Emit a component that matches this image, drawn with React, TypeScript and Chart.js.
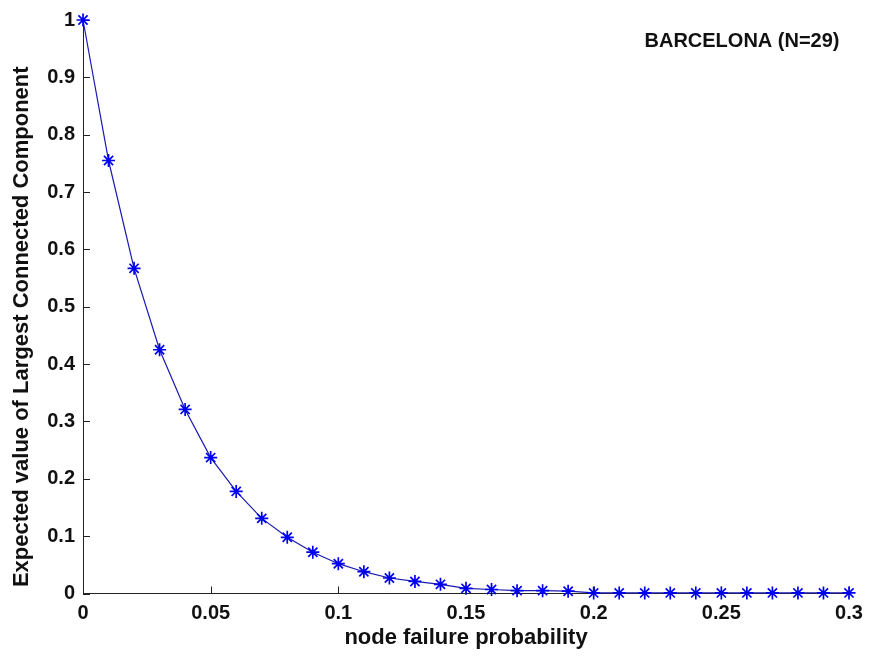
import React, { useEffect, useRef } from "react";
import { Chart, registerables } from "chart.js";

Chart.register(...registerables);

const failureProb = [
  0.0, 0.01, 0.02, 0.03, 0.04, 0.05, 0.06, 0.07, 0.08, 0.09, 0.1,
  0.11, 0.12, 0.13, 0.14, 0.15, 0.16, 0.17, 0.18, 0.19, 0.2,
  0.21, 0.22, 0.23, 0.24, 0.25, 0.26, 0.27, 0.28, 0.29, 0.3,
];
const expectedLCC = [
  1.0, 0.755, 0.567, 0.425, 0.321, 0.237, 0.178, 0.131, 0.098, 0.072, 0.052,
  0.038, 0.027, 0.021, 0.016, 0.009, 0.007, 0.005, 0.005, 0.004, 0.001,
  0.001, 0.001, 0.001, 0.001, 0.001, 0.001, 0.001, 0.001, 0.001, 0.001,
];
const xTickValues = [0, 0.05, 0.1, 0.15, 0.2, 0.25, 0.3];
const yTickValues = [0, 0.1, 0.2, 0.3, 0.4, 0.5, 0.6, 0.7, 0.8, 0.9, 1];

const annotationText = "BARCELONA (N=29)";
const xTitle = "node failure probability";
const yTitle = "Expected value of Largest Connected Component";

const FONT = "'Liberation Sans', Arial, Helvetica, sans-serif";
const fmt = (v: number) => String(parseFloat(Number(v).toFixed(3)));

const innerTicksPlugin = {
  id: "innerTicks",
  beforeDatasetsDraw(chart: any) {
    const { ctx, chartArea } = chart;
    const xs = chart.scales.x;
    const ys = chart.scales.y;
    const len = 7;
    ctx.save();
    ctx.strokeStyle = "#222";
    ctx.lineWidth = 1;
    ctx.beginPath();
    xTickValues.forEach((v) => {
      const px = Math.round(xs.getPixelForValue(v)) + 0.5;
      ctx.moveTo(px, chartArea.bottom);
      ctx.lineTo(px, chartArea.bottom - len);
    });
    yTickValues.forEach((v) => {
      const py = Math.round(ys.getPixelForValue(v)) + 0.5;
      ctx.moveTo(chartArea.left, py);
      ctx.lineTo(chartArea.left + len, py);
    });
    ctx.stroke();
    ctx.restore();
  },
};

const textPlugin = {
  id: "textLabels",
  afterDraw(chart: any) {
    const { ctx, chartArea } = chart;
    ctx.save();
    ctx.fillStyle = "#111";
    ctx.font = `bold 20px ${FONT}`;
    ctx.textAlign = "center";
    ctx.textBaseline = "middle";
    ctx.fillText(annotationText, chartArea.right - 107, chartArea.top + 21);
    ctx.font = `bold 22px ${FONT}`;
    ctx.translate(22, (chartArea.top + chartArea.bottom) / 2 + 20);
    ctx.rotate(-Math.PI / 2);
    ctx.fillText(yTitle, 0, 0);
    ctx.restore();
  },
};

export default function App() {
  const ref = useRef<HTMLCanvasElement | null>(null);

  useEffect(() => {
    if (!ref.current) return;
    const chart = new Chart(ref.current, {
      type: "line",
      data: {
        datasets: [
          {
            data: failureProb.map((x, i) => ({ x, y: expectedLCC[i] })),
            borderColor: "#1a1ab0",
            borderWidth: 1.2,
            pointStyle: "star",
            pointRadius: 6.5,
            pointBorderColor: "#0000f0",
            pointBackgroundColor: "#0000f0",
            pointBorderWidth: 1.7,
            tension: 0,
            fill: false,
            clip: false as any,
          },
        ],
      },
      options: {
        responsive: false,
        animation: false,
        layout: { padding: { left: 0, right: 23, top: 17, bottom: 0 } },
        plugins: {
          legend: { display: false },
          tooltip: { enabled: false },
          title: { display: false },
        },
        scales: {
          x: {
            type: "linear",
            min: 0,
            max: 0.3,
            afterBuildTicks: (s: any) => {
              s.ticks = xTickValues.map((v) => ({ value: v }));
            },
            afterFit: (s: any) => {
              s.height = 66.5;
            },
            grid: { display: true, drawOnChartArea: false, drawTicks: false },
            border: { display: true, color: "#222", width: 1 },
            ticks: {
              padding: 8,
              color: "#111",
              font: { family: FONT, size: 20, weight: "bold" },
              callback: (v: any) => fmt(v),
              maxRotation: 0,
              autoSkip: false,
            },
            title: {
              display: true,
              text: xTitle,
              color: "#111",
              font: { family: FONT, size: 22, weight: "bold" },
              padding: { top: 0, bottom: 9 },
            },
          },
          y: {
            type: "linear",
            min: 0,
            max: 1,
            afterBuildTicks: (s: any) => {
              s.ticks = yTickValues.map((v) => ({ value: v }));
            },
            afterFit: (s: any) => {
              s.width = 83;
            },
            grid: { display: true, drawOnChartArea: false, drawTicks: false },
            border: { display: true, color: "#222", width: 1 },
            ticks: {
              padding: 8,
              color: "#111",
              font: { family: FONT, size: 20, weight: "bold" },
              callback: (v: any) => fmt(v),
              autoSkip: false,
            },
          },
        },
      },
      plugins: [innerTicksPlugin, textPlugin],
    });
    return () => chart.destroy();
  }, []);

  return (
    <div style={{ position: "fixed", left: 0, top: 0, width: 872, height: 660, background: "#fff" }}>
      <canvas ref={ref} width={872} height={660} />
    </div>
  );
}
